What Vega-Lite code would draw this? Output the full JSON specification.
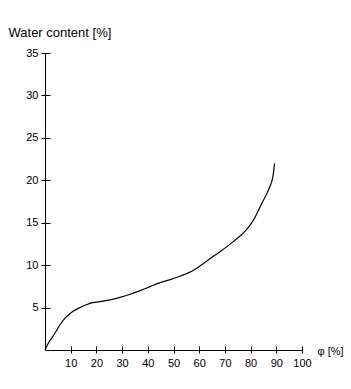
{
  "$schema": "https://vega.github.io/schema/vega-lite/v6.json",
  "width": 257,
  "height": 297,
  "autosize": "none",
  "padding": {"left": 45, "top": 53, "right": 49, "bottom": 39},
  "background": "white",
  "config": {
    "view": {"stroke": null},
    "axis": {
      "grid": false,
      "domainColor": "black",
      "domainWidth": 1,
      "tickColor": "black",
      "tickWidth": 1,
      "labelColor": "black",
      "titleColor": "black",
      "labelFont": "Liberation Sans",
      "titleFont": "Liberation Sans",
      "labelFontSize": 11,
      "titleFontWeight": "normal"
    }
  },
  "data": {
    "values": [
      {"x": 0, "y": 0},
      {"x": 0.9, "y": 0.6},
      {"x": 2.6, "y": 1.4},
      {"x": 3.9, "y": 2.0},
      {"x": 5.8, "y": 2.95},
      {"x": 7.8, "y": 3.75},
      {"x": 10.4, "y": 4.45},
      {"x": 13.6, "y": 5.0},
      {"x": 17.5, "y": 5.5},
      {"x": 21.4, "y": 5.7},
      {"x": 25.3, "y": 5.9},
      {"x": 29.2, "y": 6.2},
      {"x": 33.1, "y": 6.57},
      {"x": 37, "y": 7.0},
      {"x": 40.9, "y": 7.47},
      {"x": 44.8, "y": 7.94},
      {"x": 48.7, "y": 8.3},
      {"x": 53, "y": 8.75},
      {"x": 57.8, "y": 9.4},
      {"x": 63, "y": 10.5},
      {"x": 68.2, "y": 11.6},
      {"x": 73.4, "y": 12.8},
      {"x": 77.9, "y": 14.0},
      {"x": 81.1, "y": 15.3},
      {"x": 84.4, "y": 17.3},
      {"x": 87, "y": 18.9},
      {"x": 88.7, "y": 20.45},
      {"x": 89.3, "y": 22.0}
    ]
  },
  "layer": [
    {
      "mark": {"type": "line", "interpolate": "monotone", "color": "black", "strokeWidth": 1.2},
      "encoding": {
        "x": {
          "field": "x", "type": "quantitative",
          "scale": {"domain": [0, 100], "nice": false},
          "axis": {
            "orient": "bottom",
            "values": [10, 20, 30, 40, 50, 60, 70, 80, 90, 100],
            "ticks": false,
            "labelPadding": 7,
            "labelFlush": false,
            "labelOverlap": false,
            "title": "φ [%]",
            "titleAngle": 0,
            "titleX": 272,
            "titleY": 1,
            "titleAlign": "left",
            "titleBaseline": "middle",
            "titleFontSize": 11
          }
        },
        "y": {
          "field": "y", "type": "quantitative",
          "scale": {"domain": [0, 35], "nice": false},
          "axis": {
            "orient": "left",
            "values": [5, 10, 15, 20, 25, 30, 35],
            "ticks": false,
            "labelPadding": 7,
            "labelFlush": false,
            "labelOverlap": false,
            "title": "Water content [%]",
            "titleAngle": 0,
            "titleX": -37,
            "titleY": -17,
            "titleAlign": "left",
            "titleBaseline": "alphabetic",
            "titleFontSize": 13
          }
        }
      }
    },
    {
      "mark": {"type": "line", "opacity": 0},
      "encoding": {
        "x": {
          "field": "x", "type": "quantitative",
          "axis": {
            "orient": "bottom",
            "values": [10, 20, 30, 40, 50, 60, 70, 80, 90, 100],
            "offset": -4,
            "tickSize": 7,
            "labels": false,
            "domain": false,
            "title": null
          }
        },
        "y": {
          "field": "y", "type": "quantitative",
          "axis": {
            "orient": "left",
            "values": [5, 10, 15, 20, 25, 30, 35],
            "offset": -5,
            "tickSize": 9,
            "labels": false,
            "domain": false,
            "title": null
          }
        }
      }
    }
  ],
  "resolve": {"axis": {"x": "independent", "y": "independent"}}
}
